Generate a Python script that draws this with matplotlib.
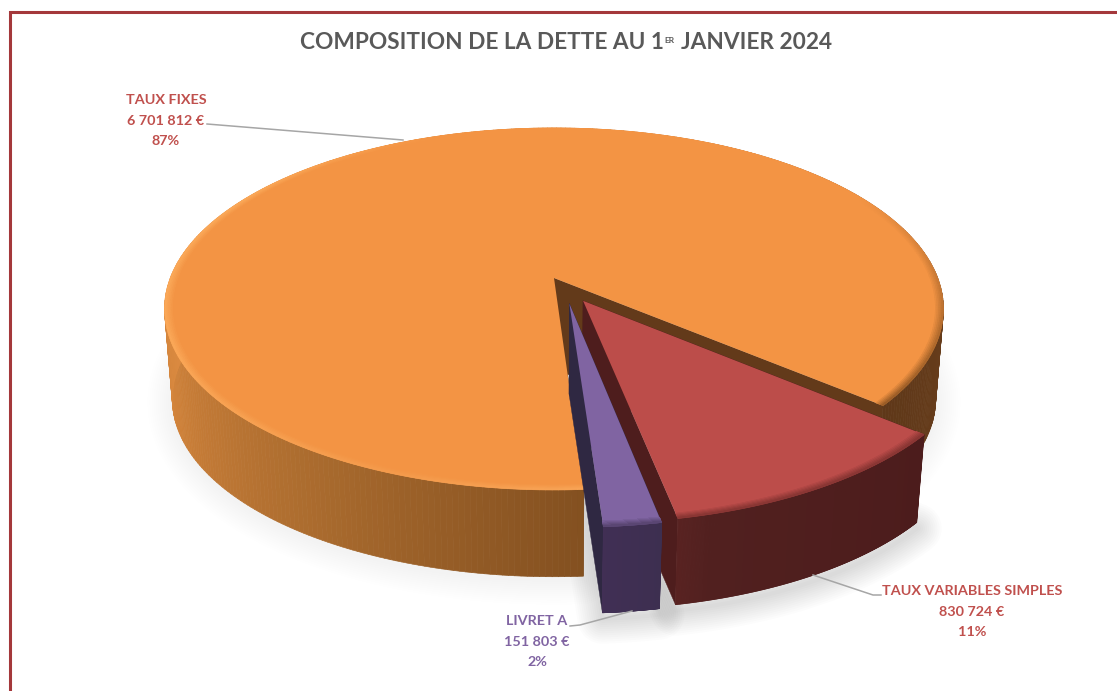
import numpy as np
import matplotlib
matplotlib.use("Agg")
import matplotlib.pyplot as plt
from matplotlib.collections import PolyCollection
from matplotlib.colors import to_rgb

labels = ["TAUX FIXES", "TAUX VARIABLES SIMPLES", "LIVRET A"]
values = [6701812, 830724, 151803]
percents = ["87%", "11%", "2%"]
explode = [0.0, 0.147, 0.143]
nudge = [0.0, 0.0, 0.021]

plt.rcParams["font.family"] = ["Lato", "DejaVu Sans"]

# view of the pie, in pixels
cx, cy = 554, 278
A, B, k = 383.7, 175.7, 0.171
H = 91
shrink = 0.02
start = 176.3


def project(xs, ys, z):
    w = 1 - k * ys
    s = 1 - shrink * z
    return cx + A * xs / w * s, cy + B * ys / w * s + H * z


def disk(theta, r, off, z):
    t = np.radians(theta)
    return project(off[0] + r * np.sin(t), off[1] - r * np.cos(t), z)


def ramp(theta, stops, cols):
    rgb = np.array([to_rgb(c) for c in cols])
    return np.column_stack([np.interp(theta, stops, rgb[:, i]) for i in range(3)])


def quads(ax, theta, off, r0, z0, r1, z1, colors, zorder):
    x0, y0 = disk(theta, r0, off, z0)
    x1, y1 = disk(theta, r1, off, z1)
    polys = [[(x0[i], y0[i]), (x0[i + 1], y0[i + 1]), (x1[i + 1], y1[i + 1]), (x1[i], y1[i])]
             for i in range(len(theta) - 1)]
    ax.add_collection(PolyCollection(polys, facecolors=colors, edgecolors=colors,
                                     linewidths=0.5, zorder=zorder))


fig = plt.figure(figsize=(11.17, 6.91), dpi=100)
ax = fig.add_axes([0, 0, 1, 1])
ax.set_xlim(0, 1117)
ax.set_ylim(691, 0)
ax.axis("off")

# frame, open on the right and at the bottom
ax.plot([10, 10, 1117], [691, 11.5, 11.5], color="#A4383B", lw=2.2, solid_joinstyle="miter")

styles = [
    dict(top="#F39444", strip="#633A1A",
         stops=[176, 215, 250, 275, 360, 450, 490],
         wall=["#835020", "#AD6D2F", "#D0823A", "#DD8C42", "#DD8C42", "#6B3F1C", "#5F3819"],
         rstops=[176, 200, 250, 300, 340, 420, 470, 490],
         rim=["#F9A557", "#F59B4C", "#FBA858", "#FBA858", "#F39444", "#F39444", "#B06A2C", "#9A5C26"]),
    dict(top="#BC4D4A", strip="#4E1D1D",
         stops=[130, 165, 170], wall=["#4C1C1C", "#51201F", "#5A2322"],
         rstops=[130, 170], rim=["#8A3634", "#8A3634"]),
    dict(top="#8064A2", strip="#2F2842",
         stops=[169, 177], wall=["#3D2F50", "#412F55"],
         rstops=[169, 177], rim=["#5A4673", "#5A4673"]),
]

total = sum(values)
edge = start
geom = []
for i, v in enumerate(values):
    span = 360 * v / total
    mid = np.radians(edge + span / 2)
    off = (explode[i] * np.sin(mid) + nudge[i], -explode[i] * np.cos(mid))
    geom.append((edge, edge + span, off))
    edge += span
# slices run clockwise: the last two close the turn before the first one starts again
geom[1] = (geom[1][0] - 360, geom[1][1] - 360, geom[1][2])
geom[2] = (geom[2][0] - 360, geom[2][1] - 360, geom[2][2])

# soft shadow
for i, (t0, t1, off) in enumerate(geom):
    th = np.linspace(t0, t1, 200)
    x, y = disk(th, 1.0, off, 1)
    ax_, ay_ = project(off[0], off[1], 1)
    px = np.r_[ax_, x]
    py = np.r_[ay_, y] + (6 if i else 3)
    a = 0.011 if i else 0.004
    for lw in np.arange(3, 39, 3):
        ax.fill(px, py, facecolor="none", edgecolor=(0, 0, 0, a), lw=lw, joinstyle="round", zorder=1)

zo = 2
for i, (t0, t1, off) in enumerate(geom):
    st = styles[i]
    th = np.linspace(t0, t1, 400)
    mids = (th[:-1] + th[1:]) / 2

    # cut faces
    for t in (t0, t1):
        tx, ty = disk(np.array([t]), 1.0, off, 0)
        bx, by = disk(np.array([t]), 1.0, off, 1)
        ax0, ay0 = project(off[0], off[1], 0)
        ax1, ay1 = project(off[0], off[1], 1)
        ax.fill([ax0, tx[0], bx[0], ax1], [ay0, ty[0], by[0], ay1], color=st["strip"], lw=0.3, zorder=zo)
    zo += 1

    # outer wall
    quads(ax, th, off, 1.0, 0, 1.0, 1, ramp(mids, st["stops"], st["wall"]), zo)
    zo += 1

    # top face
    x, y = disk(th, 1.0, off, 0)
    ax0, ay0 = project(off[0], off[1], 0)
    ax.fill(np.r_[ax0, x], np.r_[ay0, y], color=st["top"], lw=0, zorder=zo)
    zo += 1

    # bevel along the rim
    rim = ramp(mids, st["rstops"], st["rim"])
    topc = np.array(to_rgb(st["top"]))
    rings = np.linspace(0.98, 1.0, 6)
    for j in range(len(rings) - 1):
        mix = (j + 1) / (len(rings) - 1)
        quads(ax, th, off, rings[j], 0, rings[j + 1], 0, topc * (1 - mix) + rim * mix, zo)
    zo += 1

# leader lines
grey = "#A6A6A6"
ax.plot([207, 403], [124, 140], color=grey, lw=1.1, zorder=zo)
ax.plot([813, 873, 881], [575, 595, 595], color=grey, lw=1.1, zorder=zo)
ax.plot([632, 580, 570], [611, 625, 626], color=grey, lw=1.1, zorder=zo)

# title
title_c = "#595959"
ax.text(300, 42.5, "COMPOSITION DE LA DETTE AU 1", fontsize=16.3, fontweight="bold", color=title_c,
        ha="left", va="center")
ax.text(664, 40, "ER", fontsize=6, fontweight="bold", color=title_c, ha="left", va="center")
ax.text(681, 42.5, "JANVIER 2024", fontsize=16.3, fontweight="bold", color=title_c, ha="left", va="center")

# data labels
label_pos = [(166, 100), (972, 591), (537, 621)]
label_col = ["#C0504D", "#C0504D", "#8064A2"]
for lab, v, p, (lx, ly), c in zip(labels, values, percents, label_pos, label_col):
    money = f"{v:,}".replace(",", " ") + " €"
    for n, s in enumerate([lab, money, p]):
        ax.text(lx, ly + n * 20.5, s, fontsize=10.4, fontweight="bold", color=c, ha="center", va="center")

fig.savefig("out.png", dpi=100)
